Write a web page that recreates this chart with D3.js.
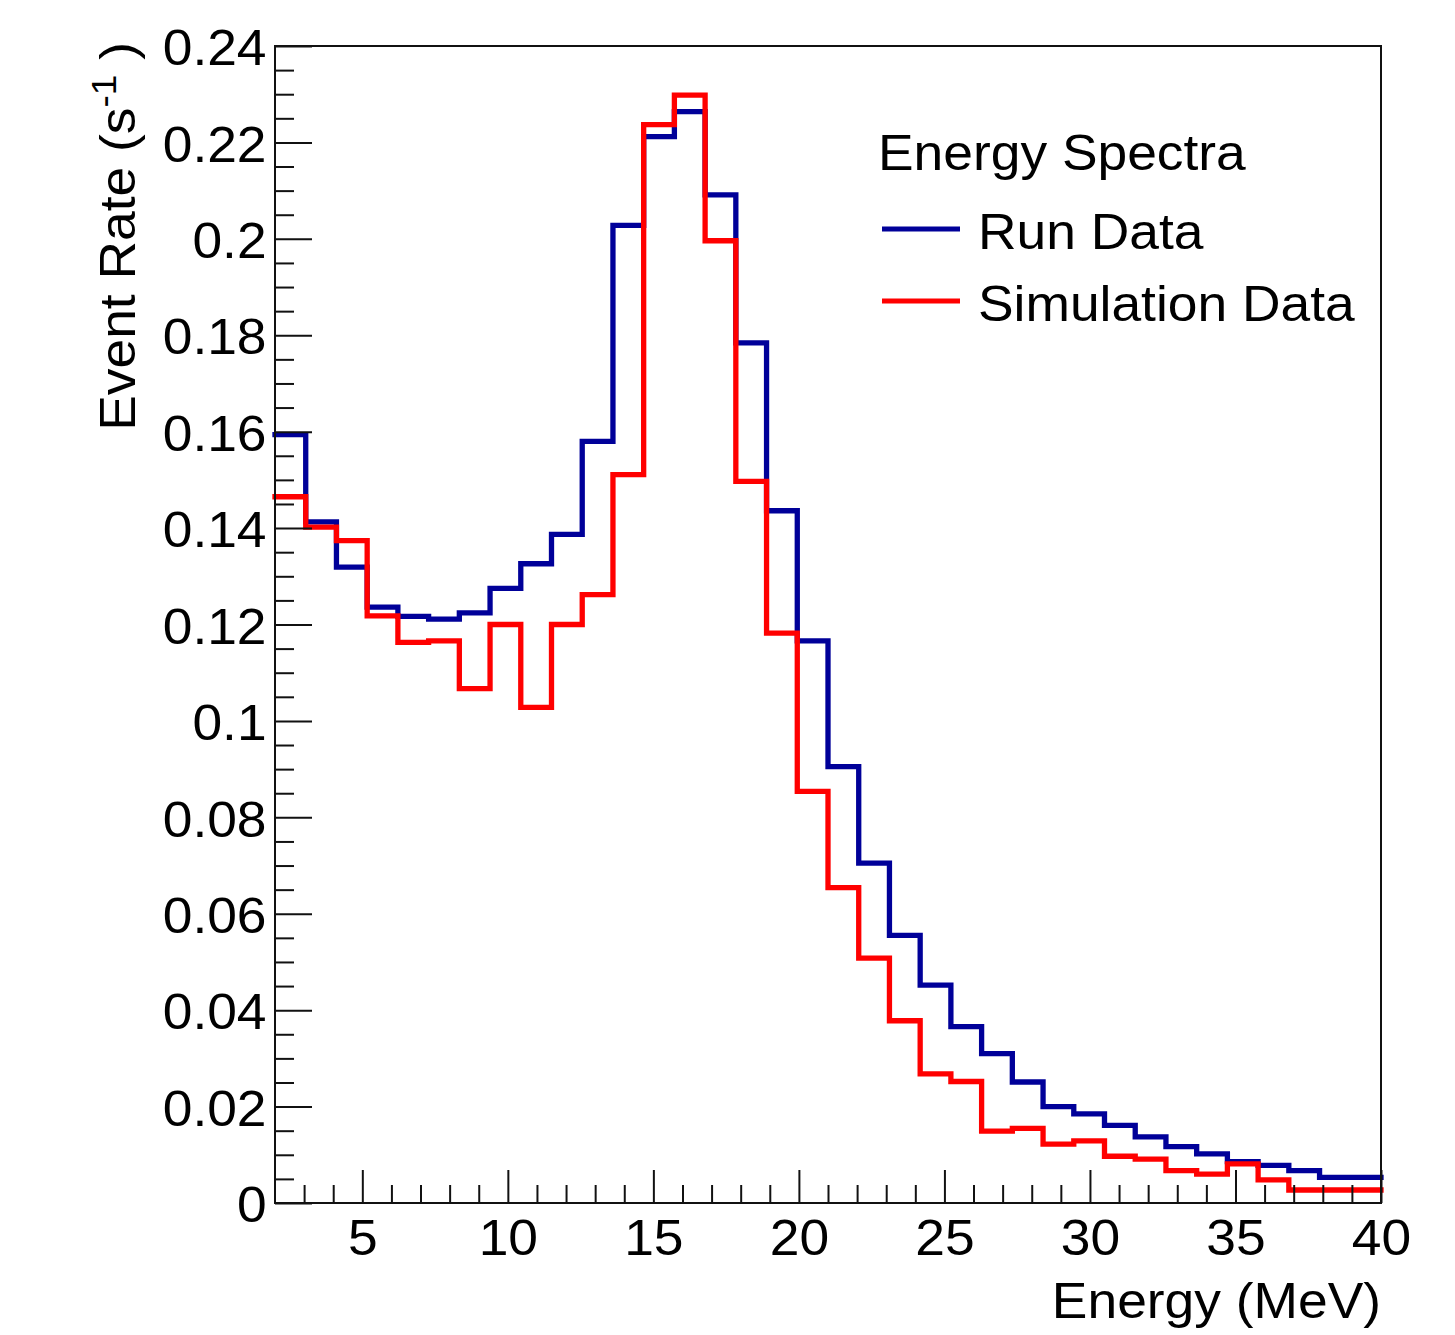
<!DOCTYPE html>
<html>
<head>
<meta charset="utf-8">
<script src="https://cdn.jsdelivr.net/npm/d3@7"></script>
<style>
  html, body { margin: 0; padding: 0; background: #fff; }
  svg { display: block; }
  text { font-family: "Liberation Sans", Arial, Helvetica, sans-serif; fill: #000; }
</style>
</head>
<body>
<svg id="chart" width="1455" height="1335"></svg>
<script>
// ---- data ----
const xMin = 2, xMax = 40, nBins = 36;
const runData = [
  0.1594, 0.1413, 0.1319, 0.1236, 0.1217, 0.1211, 0.1224, 0.1275, 0.1326, 0.1387,
  0.1580, 0.2028, 0.2212, 0.2264, 0.2091, 0.1784, 0.1436, 0.1166, 0.0905, 0.0705,
  0.0555, 0.0452, 0.0366, 0.0310, 0.0251, 0.0200, 0.0185, 0.0161, 0.0137, 0.0117,
  0.0102, 0.0086, 0.0078, 0.0067, 0.0053, 0.0053
];
const simData = [
  0.1465, 0.1402, 0.1374, 0.1218, 0.1163, 0.1166, 0.1067, 0.1200, 0.1028, 0.1200,
  0.1262, 0.1511, 0.2237, 0.2298, 0.1996, 0.1497, 0.1182, 0.0854, 0.0654, 0.0508,
  0.0378, 0.0268, 0.0252, 0.0149, 0.0155, 0.0122, 0.0129, 0.0097, 0.0091, 0.0067,
  0.0060, 0.0081, 0.0048, 0.0027, 0.0027, 0.0027
];
const xTicks = [5, 10, 15, 20, 25, 30, 35, 40];
const xMinorTicks = [3,4,6,7,8,9,11,12,13,14,16,17,18,19,21,22,23,24,26,27,28,29,31,32,33,34,36,37,38,39];
const yTicks = [0, 0.02, 0.04, 0.06, 0.08, 0.1, 0.12, 0.14, 0.16, 0.18, 0.2, 0.22, 0.24];
const yTickLabels = ["0", "0.02", "0.04", "0.06", "0.08", "0.1", "0.12", "0.14", "0.16", "0.18", "0.2", "0.22", "0.24"];
const seriesNames = ["Run Data", "Simulation Data"];
const legendTitle = "Energy Spectra";
const xTitle = "Energy (MeV)";

// ---- layout ----
const L = 275, R = 1381, T = 46, B = 1203;
const FS = 50.5, SX = 1.057;
const colors = ["#000099", "#ff0000"];

const svg = d3.select("#chart");
const x = d3.scaleLinear().domain([xMin, xMax]).range([L, R]);
const y = d3.scaleLinear().domain([0, 0.24]).range([B, T]);

const binW = (xMax - xMin) / nBins;
function stepPts(vals) {
  const pts = vals.map((v, i) => [xMin + i * binW, v]);
  pts.push([xMax, vals[vals.length - 1]]);
  return pts;
}
const line = d3.line().x(d => x(d[0])).y(d => y(d[1])).curve(d3.curveStepAfter);

// histograms (run first, simulation on top)
[runData, simData].forEach((vals, k) => {
  svg.append("path")
    .attr("d", line(stepPts(vals)))
    .attr("fill", "none")
    .attr("stroke", colors[k])
    .attr("stroke-width", 5.3)
    .attr("stroke-linejoin", "miter")
    .attr("stroke-linecap", "square");
});

// minor ticks
const xMinorAxis = d3.axisBottom(x).tickValues(xMinorTicks).tickSizeInner(-18).tickSizeOuter(0).tickFormat("");
const gxm = svg.append("g").attr("transform", `translate(0,${B})`).call(xMinorAxis);
const yMinor = d3.range(0, 49).map(i => i * 0.005).filter((v, i) => i % 4 !== 0);
const yMinorAxis = d3.axisLeft(y).tickValues(yMinor).tickSizeInner(-19).tickSizeOuter(0).tickFormat("");
const gym = svg.append("g").attr("transform", `translate(${L},0)`).call(yMinorAxis);

// major axes
const xAxis = d3.axisBottom(x).tickValues(xTicks).tickSizeInner(-33).tickSizeOuter(0).tickPadding(16)
  .tickFormat(d => String(d));
const gx = svg.append("g").attr("transform", `translate(0,${B})`).call(xAxis);
const yAxis = d3.axisLeft(y).tickValues(yTicks).tickSizeInner(-37).tickSizeOuter(0).tickPadding(8)
  .tickFormat((d, i) => yTickLabels[i]);
const gy = svg.append("g").attr("transform", `translate(${L},0)`).call(yAxis);

[gx, gy, gxm, gym].forEach(g => {
  g.select(".domain").remove();
  g.selectAll(".tick line").attr("stroke", "#111").attr("stroke-width", 2);
});
gx.selectAll(".tick text").attr("font-size", FS).attr("fill", "#000")
  .attr("font-family", "Liberation Sans, Arial, sans-serif")
  .attr("transform", `scale(${SX},1)`);
gy.selectAll(".tick text").attr("font-size", FS).attr("fill", "#000")
  .attr("font-family", "Liberation Sans, Arial, sans-serif")
  .attr("dy", "0.37em")
  .attr("transform", `scale(${SX},1)`);

// frame
svg.append("rect").attr("x", L).attr("y", T).attr("width", R - L).attr("height", B - T)
  .attr("fill", "none").attr("stroke", "#111").attr("stroke-width", 2);

// axis titles
svg.append("text")
  .attr("transform", `translate(${R},1318) scale(${SX},1)`)
  .attr("text-anchor", "end").attr("font-size", FS)
  .text(xTitle);

const yl = svg.append("text")
  .attr("transform", `translate(135,42) rotate(-90) scale(${SX},1)`)
  .attr("text-anchor", "end").attr("font-size", FS);
yl.append("tspan").text("Event Rate (s");
yl.append("tspan").attr("font-size", 35).attr("dy", -19).text("-1");
yl.append("tspan").attr("dy", 19).text("\u00a0)");

// legend
svg.append("text")
  .attr("transform", `translate(878,170) scale(${SX},1)`)
  .attr("font-size", FS).text(legendTitle);
const legY = [229, 301], legTextY = [249, 321];
seriesNames.forEach((name, k) => {
  svg.append("line").attr("x1", 882).attr("x2", 960).attr("y1", legY[k]).attr("y2", legY[k])
    .attr("stroke", colors[k]).attr("stroke-width", 5);
  svg.append("text")
    .attr("transform", `translate(978,${legTextY[k]}) scale(${SX},1)`)
    .attr("font-size", FS).text(name);
});
</script>
</body>
</html>
